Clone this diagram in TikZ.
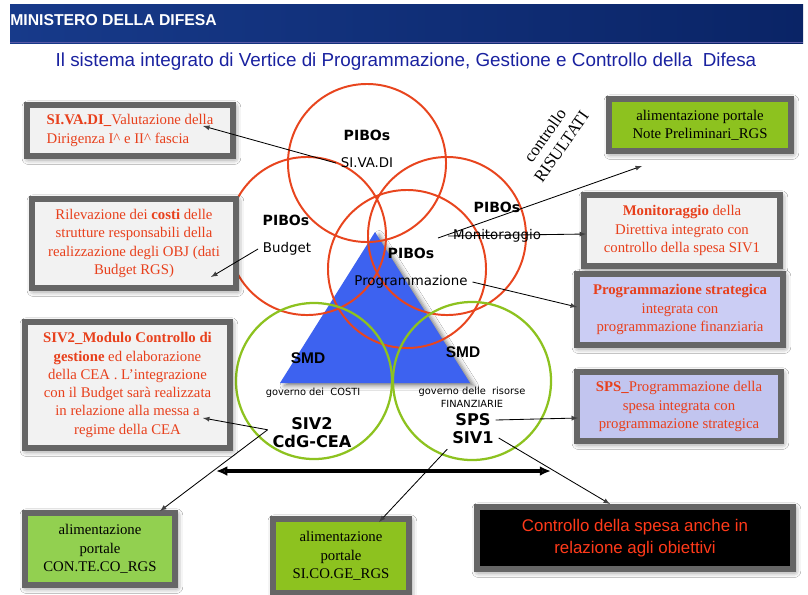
\documentclass[tikz,border=0pt]{standalone}
\usepackage{fontspec}
\setmainfont{Liberation Serif}
\newfontfamily\verdfont{DejaVu Sans}
\newfontfamily\arialfont{Liberation Sans}
\usepackage{xcolor}
\usetikzlibrary{arrows}
\usetikzlibrary{arrows, arrows.meta, calc, shadows.blur}

\definecolor{pibored}{HTML}{E8451E}
\definecolor{smdgreen}{HTML}{8DC21F}
\definecolor{triblue}{HTML}{3D62F0}
\definecolor{boxred}{HTML}{E8401C}
\definecolor{boxgray}{HTML}{F2F2F2}
\definecolor{framegray}{HTML}{666666}
\definecolor{lavA}{HTML}{CBCDF4}
\definecolor{lavB}{HTML}{C2C5EF}
\definecolor{portgreenA}{HTML}{92D050}
\definecolor{portgreenB}{HTML}{8DC21F}
\definecolor{titleblue}{HTML}{1A22A0}
\definecolor{headA}{HTML}{173A8A}
\definecolor{headB}{HTML}{0A2466}
\definecolor{blackred}{HTML}{FF3A1A}

\tikzset{
  infobox/.style={draw=framegray, line width=4.6pt, fill=boxgray, text=boxred,
    font=\fontsize{10.5}{13}\selectfont, align=center, inner sep=1pt,
    blur shadow={shadow xshift=1pt, shadow yshift=-1.5pt, shadow blur radius=4.5pt, shadow opacity=60}},
  greenbox/.style={infobox, text=black},
  pibo/.style={font=\verdfont\bfseries\fontsize{10}{12}\selectfont},
  pibolab/.style={font=\verdfont\fontsize{9.5}{11}\selectfont},
  govlab/.style={font=\verdfont\fontsize{7}{9.2}\selectfont, align=center},
  smdlab/.style={font=\arialfont\bfseries\fontsize{11}{13}\selectfont},
  sivlab/.style={font=\verdfont\bfseries\fontsize{11.5}{13}\selectfont},
  conn/.style={-latex, line width=0.6pt}
}

\begin{document}
\begin{tikzpicture}[x=0.025cm, y=-0.025cm]
    \useasboundingbox (0,0) rectangle (808,594);
    \fill[white] (0,0) rectangle (808,594);

    \shade[left color=headA, right color=headB] (10,4) rectangle (803,43);
    \draw[blue!30!gray, line width=1pt] (10,42.5) -- (803,42.5);
    \node[anchor=base west, inner sep=0, text=white, font=\arialfont\bfseries\fontsize{11.2}{13}\selectfont] (ministero) at (10,25) {MINISTERO DELLA DIFESA};
    \node[text=titleblue, font=\arialfont\fontsize{13.4}{15}\selectfont] (titolo) at (406,62) {Il sistema integrato di Vertice di Programmazione, Gestione e Controllo della \ Difesa};

    \fill[triblue, blur shadow={shadow xshift=3pt, shadow yshift=-2pt, shadow blur radius=3pt, shadow opacity=50}] (375,232) -- (470,383) -- (280,383) -- cycle;

    \draw[pibored, line width=1.4pt] (367,163) circle[radius=1.975cm];
    \draw[pibored, line width=1.4pt] (307,236) circle[radius=1.975cm];
    \draw[pibored, line width=1.4pt] (447,236) circle[radius=1.975cm];
    \draw[pibored, line width=1.4pt] (407,269) circle[radius=1.975cm];
    \draw[smdgreen, line width=1.6pt] (314,381) circle[radius=1.95cm];
    \draw[smdgreen, line width=1.6pt] (472,381) circle[radius=1.975cm];

    \node[pibo] (piboA) at (367,135) {PIBOs};
    \node[pibolab] (sivadi) at (367,163) {SI.VA.DI};
    \node[pibo] (piboB) at (286,220) {PIBOs};
    \node[pibolab] (budget) at (287,249) {Budget};
    \node[pibo] (piboC) at (497,207) {PIBOs};
    \node[pibolab] (monit) at (497,236) {Monitoraggio};
    \node[pibo] (piboD) at (411,253) {PIBOs};
    \node[pibolab] (programm) at (411,282) {Programmazione};
    \node[smdlab] (smdA) at (308,358) {SMD};
    \node[smdlab] (smdB) at (463,352) {SMD};
    \node[govlab] (govcosti) at (313,393) {governo dei \ COSTI};
    \node[govlab] (govris) at (472,397) {governo delle \ risorse\\FINANZIARIE};
    \node[sivlab] (siv2) at (312,424) {SIV2};
    \node[sivlab] (cdg) at (312,441) {CdG-CEA};
    \node[sivlab] (sps) at (473,420) {SPS};
    \node[sivlab] (siv1) at (473,438) {SIV1};
    \node[rotate=55, align=center, font=\fontsize{12}{14.2}\selectfont] (ctrl) at (553,141) {controllo\\RISULTATI};

    \node[infobox, align=left, minimum width=5.15cm, minimum height=1.275cm] (sivadibox) at (130,130.5) {\textbf{SI.VA.DI\_}Valutazione della\\Dirigenza I\^{} e II\^{} fascia};
    \node[infobox, minimum width=5.1cm, minimum height=2.225cm] (costibox) at (134,243.5) {Rilevazione dei \textbf{costi} delle\\strutture responsabili della\\realizzazione degli OBJ (dati\\Budget RGS)};
    \node[infobox, minimum width=5.125cm, minimum height=3.15cm] (siv2box) at (127.5,385) {\textbf{SIV2\_Modulo Controllo di}\\\textbf{gestione} ed elaborazione\\della CEA . L’integrazione\\con il Budget sarà realizzata\\in relazione alla messa a\\regime della CEA};
    \node[greenbox, fill=portgreenB, minimum width=4.55cm, minimum height=1.3cm] (notebox) at (700,125) {alimentazione portale\\Note Preliminari\_RGS};
    \node[infobox, minimum width=4.9cm, minimum height=1.775cm] (monitbox) at (682,230.5) {\textbf{Monitoraggio} della\\Direttiva integrato con\\controllo della spesa SIV1};
    \node[infobox, fill=lavA, minimum width=5.15cm, minimum height=1.775cm] (progbox) at (680,309.5) {\textbf{Programmazione strategica}\\integrata con\\programmazione finanziaria};
    \node[infobox, fill=lavB, minimum width=5.1cm, minimum height=1.725cm] (spsbox) at (679,406.5) {\textbf{SPS\_}Programmazione della\\spesa integrata con\\programmazione strategica};
    \node[greenbox, fill=portgreenA, minimum width=3.75cm, minimum height=1.8cm] (contecobox) at (100,549) {alimentazione\\portale\\CON.TE.CO\_RGS};
    \node[greenbox, fill=portgreenB, minimum width=3.4cm, minimum height=1.85cm] (sicogebox) at (341,556) {alimentazione\\portale\\SI.CO.GE\_RGS};
    \node[infobox, fill=black, text=blackred, font=\arialfont\fontsize{12}{15.5}\selectfont, minimum width=7.9cm, minimum height=1.55cm] (spesabox) at (635,538) {Controllo della spesa anche in\\relazione agli obiettivi};

    \coordinate (ctrlstart) at (438,238);
    \coordinate (arrL) at (216,471);
    \coordinate (arrR) at (551,471);

    \draw[conn] (sivadi.west) -- (203,126);
    \draw[conn] (budget.west) -- (211,277);
    \draw[conn] (ctrlstart) -- (642,166);
    \draw[conn] (monit.west) -- (586,234);
    \draw[conn] (programm.east) -- (577,307);
    \draw[conn] (sps.east) -- (578,418);
    \draw[conn] (cdg.north west) -- (203,418);
    \draw[conn] (cdg.north west) -- (160,511);
    \draw[conn] (siv1.south west) -- (379,522);
    \draw[conn] (siv1.east) -- (610,504);
    \draw[{Latex[length=8pt,width=7pt]}-{Latex[length=8pt,width=7pt]}, line width=2.4pt] (arrL) -- (arrR);
\end{tikzpicture}
\end{document}
